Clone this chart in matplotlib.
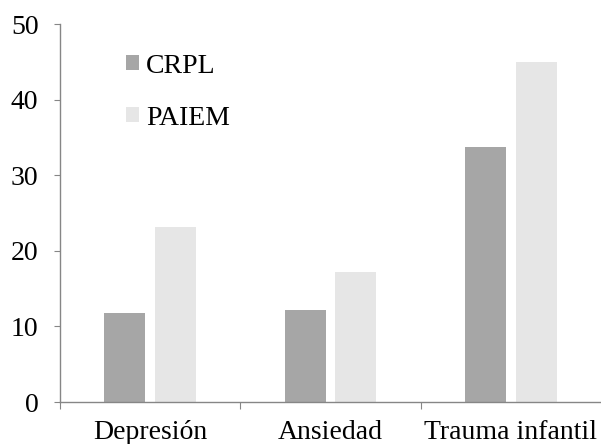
import matplotlib
matplotlib.use("Agg")
import matplotlib.pyplot as plt
import numpy as np

categories = ["Depresión", "Ansiedad", "Trauma infantil"]
series_names = ["CRPL", "PAIEM"]
crpl = [11.8, 12.2, 33.7]
paiem = [23.1, 17.2, 45.0]
colors = ["#a6a6a6", "#e6e6e6"]

plt.rcParams['font.family'] = ['Liberation Serif', 'DejaVu Serif']

fig = plt.figure(figsize=(6.01, 4.44), dpi=100)
ax = fig.add_axes([60/601, 42/444, 541/601, 378/444])

x = np.arange(len(categories))
w = 0.227
gap = 0.055
ax.bar(x - (w + gap)/2, crpl, width=w, color=colors[0], label=series_names[0])
ax.bar(x + (w + gap)/2, paiem, width=w, color=colors[1], label=series_names[1])

ax.set_xlim(-0.5, 2.5)
ax.set_ylim(0, 50)
ax.set_yticks([0, 10, 20, 30, 40, 50])
ax.set_xticks([-0.5, 0.5, 1.5])
ax.set_xticklabels([])
ax.set_xticks(x, minor=True)
ax.set_xticklabels(categories, minor=True)
ax.tick_params(axis='x', which='minor', length=0, pad=13, labelsize=20)
ax.tick_params(axis='x', which='major', length=5, direction='out', color='#868686')
ax.tick_params(axis='y', length=4.5, direction='out', color='#868686', pad=11, labelsize=20)

for s in ['top', 'right']:
    ax.spines[s].set_visible(False)
for s in ['left', 'bottom']:
    ax.spines[s].set_color('#868686')
    ax.spines[s].set_linewidth(1.0)

ax.legend(loc='upper left', bbox_to_anchor=(0.102, 0.951), frameon=False,
          fontsize=20, handlelength=0.47, handleheight=0.47, handletextpad=0.25,
          labelspacing=0.97, borderaxespad=0.0)

fig.savefig("out.png", dpi=100)
